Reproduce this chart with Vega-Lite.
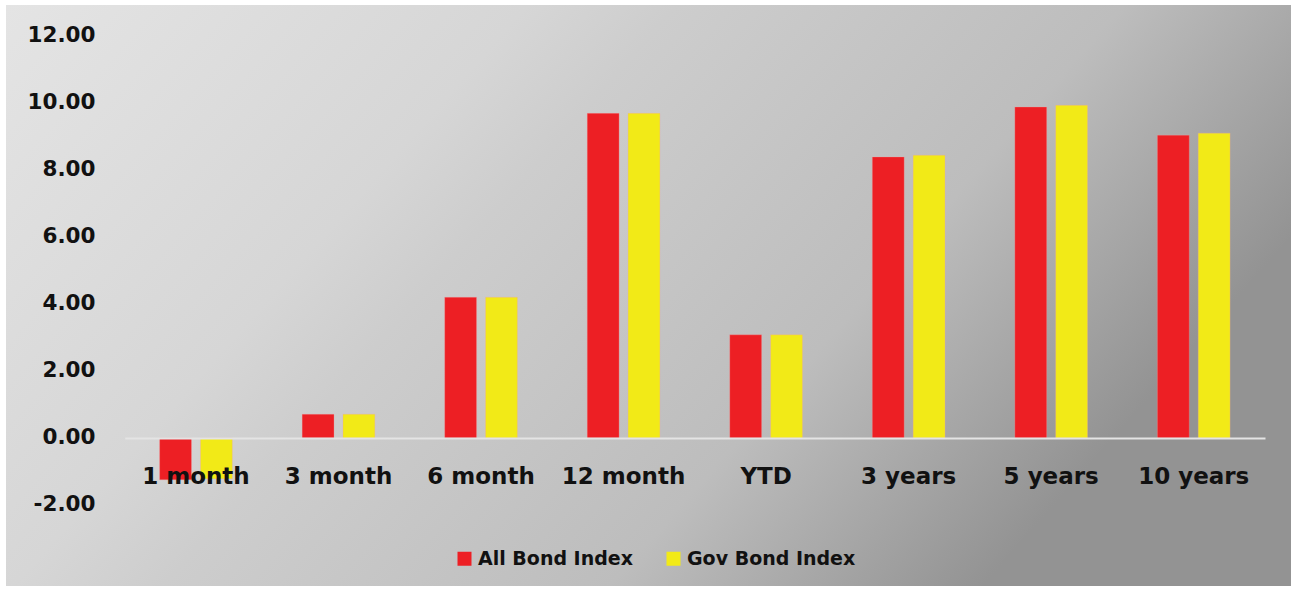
{
  "$schema": "https://vega.github.io/schema/vega-lite/v6.json",
  "width": 1285,
  "height": 581,
  "autosize": {"type": "none"},
  "padding": {"left": 6, "top": 5, "right": 8, "bottom": 5},
  "background": "white",
  "view": {
    "stroke": null,
    "fill": {
      "gradient": "linear",
      "x1": 0, "y1": 0, "x2": 1, "y2": 0.4,
      "stops": [
        {"offset": 0, "color": "#e4e4e4"},
        {"offset": 0.35, "color": "#d6d6d6"},
        {"offset": 0.45, "color": "#cdcdcd"},
        {"offset": 0.75, "color": "#bdbdbd"},
        {"offset": 1, "color": "#939393"}
      ]
    }
  },
  "data": {
    "values": [
      {"period": "1 month", "series": "All Bond Index", "value": -1.25},
      {"period": "1 month", "series": "Gov Bond Index", "value": -1.22},
      {"period": "3 month", "series": "All Bond Index", "value": 0.71},
      {"period": "3 month", "series": "Gov Bond Index", "value": 0.71},
      {"period": "6 month", "series": "All Bond Index", "value": 4.20},
      {"period": "6 month", "series": "Gov Bond Index", "value": 4.20},
      {"period": "12 month", "series": "All Bond Index", "value": 9.69},
      {"period": "12 month", "series": "Gov Bond Index", "value": 9.69},
      {"period": "YTD", "series": "All Bond Index", "value": 3.08},
      {"period": "YTD", "series": "Gov Bond Index", "value": 3.08},
      {"period": "3 years", "series": "All Bond Index", "value": 8.39},
      {"period": "3 years", "series": "Gov Bond Index", "value": 8.44},
      {"period": "5 years", "series": "All Bond Index", "value": 9.88},
      {"period": "5 years", "series": "Gov Bond Index", "value": 9.93},
      {"period": "10 years", "series": "All Bond Index", "value": 9.04},
      {"period": "10 years", "series": "Gov Bond Index", "value": 9.10}
    ]
  },
  "mark": {"type": "bar", "stroke": "#f4a0a0", "strokeWidth": 0.5, "strokeOpacity": 0.6},
  "encoding": {
    "x": {
      "field": "period",
      "type": "nominal",
      "sort": ["1 month", "3 month", "6 month", "12 month", "YTD", "3 years", "5 years", "10 years"],
      "scale": {"range": [118.7, 1259], "paddingInner": 0.49, "paddingOuter": 0.245},
      "axis": {
        "title": null,
        "orient": "bottom",
        "offset": -148,
        "zindex": 1,
        "labelAngle": 0,
        "ticks": false,
        "tickSize": 0,
        "labelPadding": 45,
        "labelBaseline": "alphabetic",
        "labelFont": "DejaVu Sans",
        "labelFontSize": 23,
        "labelFontWeight": "bold",
        "labelColor": "#111111",
        "domainColor": "#e4e4e4",
        "domainWidth": 2,
        "grid": false
      }
    },
    "xOffset": {
      "field": "series",
      "type": "nominal",
      "scale": {"paddingInner": 0.22, "paddingOuter": 0}
    },
    "y": {
      "field": "value",
      "type": "quantitative",
      "scale": {"domain": [-4.418, 12.925], "nice": false, "zero": false},
      "axis": {
        "title": null,
        "values": [-2, 0, 2, 4, 6, 8, 10, 12],
        "labelExpr": "replace(format(datum.value, '.2f'), '\u2212', '-')",
        "offset": -95,
        "domain": false,
        "ticks": false,
        "tickSize": 0,
        "grid": false,
        "labelPadding": 6,
        "labelFont": "DejaVu Sans",
        "labelFontSize": 21.5,
        "labelFontWeight": "bold",
        "labelColor": "#111111"
      }
    },
    "color": {
      "field": "series",
      "type": "nominal",
      "scale": {"domain": ["All Bond Index", "Gov Bond Index"], "range": ["#ed1f24", "#f2ea17"]},
      "legend": {
        "title": null,
        "orient": "none",
        "direction": "horizontal",
        "legendX": 449,
        "legendY": 544,
        "symbolType": "square",
        "symbolSize": 196,
        "symbolStrokeWidth": 0,
        "symbolOpacity": 1,
        "labelOffset": 4,
        "labelLimit": 400,
        "columnPadding": 31,
        "labelFont": "DejaVu Sans",
        "labelFontSize": 19,
        "labelFontWeight": "bold",
        "labelColor": "#111111"
      }
    }
  }
}
